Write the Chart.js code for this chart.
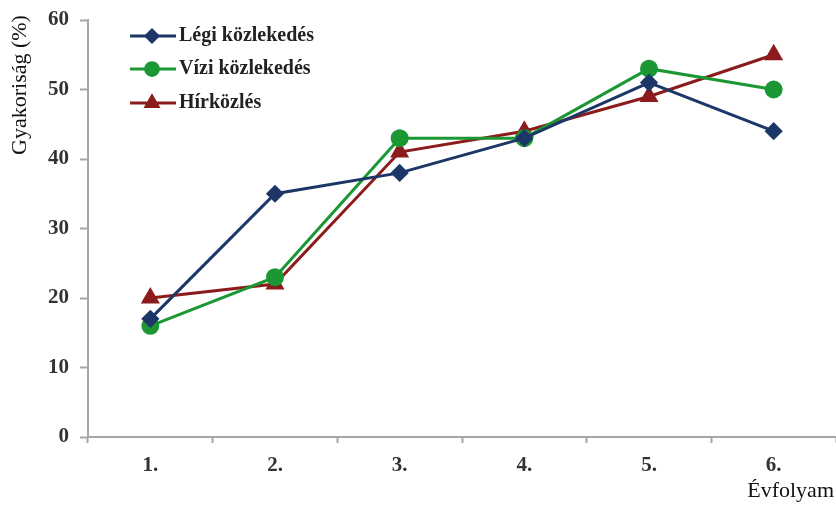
<!DOCTYPE html>
<html>
<head>
<meta charset="utf-8">
<script src="https://cdn.jsdelivr.net/npm/chart.js@4/dist/chart.umd.min.js"></script>
<style>
  html, body { margin: 0; padding: 0; background: #fff; }
  #wrap { width: 836px; height: 505px; position: relative; }
</style>
</head>
<body>
<div id="wrap"><canvas id="gyakChart"></canvas></div>
<script>
const evfolyamok = ['1.', '2.', '3.', '4.', '5.', '6.'];
const legi = [17, 35, 38, 43, 51, 44];
const vizi = [16, 23, 43, 43, 53, 50];
const hirkozles = [20, 22, 41, 44, 49, 55];

const serif = '"Liberation Serif", "DejaVu Serif", serif';
const axisGray = '#a6a6a6';

// legend inside the plot + axis titles at their odd spots
const extras = {
    id: 'extras',
    afterDraw(chart) {
        const ctx = chart.ctx;
        ctx.save();
        // y title
        ctx.fillStyle = '#111';
        ctx.font = '22px ' + serif;
        ctx.textAlign = 'center';
        ctx.textBaseline = 'middle';
        ctx.translate(20, 85);
        ctx.rotate(-Math.PI / 2);
        ctx.fillText('Gyakoriság (%)', 0, 0);
        ctx.restore();

        ctx.save();
        ctx.fillStyle = '#111';
        ctx.font = '22px ' + serif;
        ctx.textAlign = 'right';
        ctx.textBaseline = 'middle';
        ctx.fillText('Évfolyam', 834, 491);
        ctx.restore();

        // legend
        ctx.save();
        const rows = [36, 69, 103];
        chart.data.datasets.forEach((ds, i) => {
            const y = rows[i];
            ctx.strokeStyle = ds.borderColor;
            ctx.lineWidth = 3;
            ctx.beginPath();
            ctx.moveTo(130, y);
            ctx.lineTo(176, y);
            ctx.stroke();
            Chart.helpers.drawPoint(ctx, {
                pointStyle: ds.pointStyle,
                radius: ds.pointRadius * 0.85,
                rotation: 0,
                borderWidth: 1
            }, 152, y);
            ctx.fillStyle = ds.pointBackgroundColor;
            ctx.strokeStyle = ds.borderColor;
            ctx.fill();
            ctx.fillStyle = '#222';
            ctx.font = 'bold 20px ' + serif;
            ctx.textAlign = 'left';
            ctx.textBaseline = 'middle';
            ctx.fillText(ds.label, 179, y);
        });
        ctx.restore();
    }
};

const config = {
    type: 'line',
    data: {
        labels: evfolyamok,
        datasets: [{
            label: 'Légi közlekedés',
            data: legi,
            borderColor: '#1c3767',
            backgroundColor: '#1c3767',
            pointBackgroundColor: '#1c3767',
            pointStyle: 'rectRot',
            pointRadius: 7,
            borderWidth: 3
        }, {
            label: 'Vízi közlekedés',
            data: vizi,
            borderColor: '#1b9733',
            backgroundColor: '#1b9733',
            pointBackgroundColor: '#1b9733',
            pointStyle: 'circle',
            pointRadius: 7.5,
            borderWidth: 3
        }, {
            label: 'Hírközlés',
            data: hirkozles,
            borderColor: '#8c1c1c',
            backgroundColor: '#8c1c1c',
            pointBackgroundColor: '#8c1c1c',
            pointStyle: 'triangle',
            pointRadius: 8,
            borderWidth: 3
        }]
    },
    options: {
        responsive: true,
        maintainAspectRatio: false,
        animation: false,
        layout: { autoPadding: false, padding: { top: 20, right: 0, bottom: 18, left: 0 } },
        elements: { line: { tension: 0 } },
        scales: {
            x: {
                offset: true,
                grid: {
                    offset: true,
                    drawOnChartArea: false,
                    tickLength: 6,
                    tickColor: axisGray,
                    tickWidth: 2
                },
                border: { color: axisGray, width: 2 },
                ticks: {
                    color: '#333',
                    padding: 10,
                    font: { family: serif, size: 21, weight: 'bold' }
                },
                afterFit(s) {
                    s.height = 50;
                    s.paddingLeft = 0;
                    s.paddingRight = 0;
                }
            },
            y: {
                min: 0,
                max: 60,
                ticks: {
                    stepSize: 10,
                    color: '#333',
                    padding: 11,
                    font: { family: serif, size: 21, weight: 'bold' }
                },
                grid: {
                    drawOnChartArea: false,
                    tickLength: 8,
                    tickColor: axisGray,
                    tickWidth: 2
                },
                border: { color: axisGray, width: 2 },
                afterFit(s) {
                    s.width = 88;
                    s.paddingTop = 0;
                    s.paddingBottom = 0;
                }
            }
        },
        plugins: {
            legend: { display: false },
            tooltip: { enabled: false }
        }
    },
    plugins: [extras]
};

const gyakChart = new Chart(document.getElementById('gyakChart'), config);
</script>
</body>
</html>
